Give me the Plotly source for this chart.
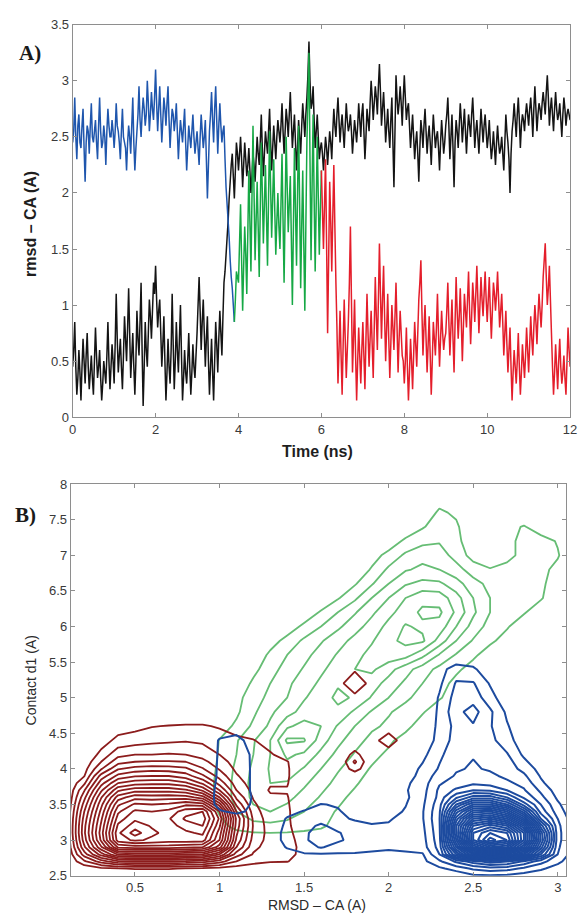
import numpy as np
import plotly.graph_objects as go

# ---------------- Panel A: rmsd - CA time series ----------------
# samples every 0.05 ns (t = 0, 0.05, ...) and the in-between samples (t = 0.025, 0.075, ...)
time_step_ns = 0.05
blue_end_ns = 3.90
green_end_ns = 6.00

rmsd_colored = [
    2.45, 2.85, 2.30, 2.70, 2.40, 2.75, 2.10, 2.60, 2.35, 2.80, 2.45, 2.65, 2.30, 2.85, 2.40, 2.60, 2.25, 2.75, 2.50, 2.65,
    2.40, 2.80, 2.55, 2.30, 2.75, 2.45, 2.20, 2.60, 2.35, 2.85, 2.20, 2.55, 2.95, 2.50, 2.85, 2.60, 3.00, 2.55, 2.90, 2.65,
    3.10, 2.55, 2.95, 2.45, 2.85, 2.60, 2.95, 2.40, 2.75, 2.55, 2.80, 2.30, 2.65, 2.45, 2.75, 2.20, 2.60, 2.40, 2.70, 2.35,
    2.55, 2.25, 2.70, 2.40, 2.65, 1.95, 2.55, 2.90, 2.45, 2.95, 2.35, 2.80, 2.45, 2.60, 2.05, 1.75, 1.40, 1.15, 0.85, 1.30,
    1.20, 1.90, 0.95, 1.70, 1.10, 2.20, 1.30, 2.60, 1.40, 2.10, 1.25, 2.45, 1.55, 2.25, 1.35, 2.55, 1.60, 2.30, 1.45, 2.00,
    1.50, 2.35, 1.20, 2.50, 1.65, 2.15, 1.00, 2.40, 1.35, 2.60, 1.15, 2.20, 0.95, 2.45, 3.25, 1.40, 2.70, 1.30, 2.50, 1.45,
    2.20, 1.50, 2.30, 0.75, 2.10, 1.30, 2.25, 1.20, 0.30, 0.95, 0.20, 1.05, 0.35, 0.85, 1.70, 0.40, 1.05, 0.15, 0.80, 0.30,
    0.85, 0.25, 1.10, 0.45, 0.95, 0.35, 1.25, 0.60, 1.55, 0.70, 1.35, 0.50, 1.10, 0.35, 1.00, 0.60, 1.20, 0.40, 0.95, 0.55,
    0.30, 0.80, 0.15, 0.70, 0.25, 0.85, 0.45, 1.05, 1.40, 0.55, 1.00, 0.40, 0.90, 0.20, 0.85, 0.55, 1.10, 0.45, 0.95, 0.60,
    0.75, 1.20, 0.55, 1.05, 0.40, 1.25, 0.70, 1.15, 0.50, 1.10, 0.80, 1.30, 0.65, 1.20, 0.85, 1.35, 0.75, 1.25, 0.90, 1.30,
    0.85, 1.25, 0.70, 1.20, 0.95, 1.30, 0.80, 1.10, 0.55, 0.95, 0.40, 0.80, 0.15, 0.60, 0.30, 0.75, 0.20, 0.65, 0.35, 0.80,
    0.40, 0.90, 0.55, 1.00, 0.65, 1.10, 0.80, 1.25, 1.55, 1.00, 1.35, 0.75, 0.20, 0.65, 0.25, 0.70, 0.30, 0.55, 0.20, 0.80,
    0.45,
]
rmsd_colored_mid = [
    2.55, 2.50, 2.60, 2.45, 2.60, 2.40, 2.45, 2.55, 2.60, 2.50, 2.55, 2.45, 2.60, 2.55, 2.45, 2.50, 2.55, 2.60, 2.50, 2.55,
    2.55, 2.60, 2.45, 2.55, 2.50, 2.40, 2.45, 2.50, 2.60, 2.45, 2.40, 2.70, 2.65, 2.70, 2.75, 2.70, 2.80, 2.70, 2.75, 2.85,
    2.80, 2.75, 2.70, 2.65, 2.75, 2.80, 2.65, 2.60, 2.70, 2.65, 2.55, 2.50, 2.55, 2.60, 2.45, 2.40, 2.50, 2.55, 2.50, 2.45,
    2.40, 2.50, 2.55, 2.50, 2.30, 2.25, 2.70, 2.65, 2.75, 2.65, 2.60, 2.60, 2.55, 2.30, 1.90, 1.60, 1.25, 1.00, 1.05, 1.25,
    1.55, 1.40, 1.35, 1.45, 1.65, 1.75, 1.95, 2.00, 1.75, 1.70, 1.85, 2.00, 1.90, 1.80, 1.95, 2.05, 1.95, 1.85, 1.75, 1.70,
    1.90, 1.75, 1.85, 2.05, 1.90, 1.60, 1.70, 1.85, 2.00, 1.90, 1.70, 1.55, 1.70, 2.85, 2.30, 2.05, 1.95, 1.90, 1.95, 1.85,
    1.85, 1.90, 1.55, 1.40, 1.75, 1.80, 1.70, 0.80, 0.60, 0.55, 0.65, 0.70, 0.60, 1.20, 1.05, 0.70, 0.55, 0.50, 0.55, 0.60,
    0.55, 0.70, 0.75, 0.70, 0.65, 0.80, 0.90, 1.05, 1.10, 1.05, 0.90, 0.80, 0.70, 0.65, 0.80, 0.90, 0.80, 0.70, 0.75, 0.50,
    0.50, 0.45, 0.40, 0.50, 0.55, 0.65, 0.75, 1.20, 0.95, 0.80, 0.70, 0.65, 0.55, 0.50, 0.70, 0.80, 0.75, 0.70, 0.75, 0.70,
    0.95, 0.85, 0.80, 0.70, 0.85, 0.95, 0.90, 0.85, 0.80, 0.95, 1.05, 0.95, 0.90, 1.05, 1.10, 1.05, 1.00, 1.05, 1.10, 1.05,
    1.05, 0.95, 0.95, 1.10, 1.10, 1.05, 0.95, 0.85, 0.75, 0.65, 0.60, 0.45, 0.40, 0.45, 0.50, 0.45, 0.40, 0.50, 0.55, 0.60,
    0.65, 0.70, 0.80, 0.85, 0.90, 0.95, 1.00, 1.40, 1.25, 1.15, 1.05, 0.45, 0.40, 0.45, 0.50, 0.45, 0.40, 0.35, 0.50, 0.60,
]

rmsd_black = [
    0.45, 0.85, 0.20, 0.60, 0.15, 0.70, 0.30, 0.75, 0.25, 0.55, 0.20, 0.80, 0.35, 0.60, 0.15, 0.50, 0.30, 0.85, 0.25, 0.65,
    0.30, 1.10, 0.40, 0.70, 0.25, 0.90, 0.50, 1.15, 0.35, 0.75, 0.20, 0.95, 0.55, 1.20, 0.10, 0.85, 0.45, 1.05, 0.70, 1.20,
    1.35, 0.80, 1.05, 0.45, 0.90, 0.15, 0.70, 0.30, 1.10, 0.25, 0.85, 0.40, 1.00, 0.15, 0.60, 0.30, 0.75, 0.20, 0.65, 0.35,
    0.75, 1.25, 0.60, 1.05, 0.45, 0.90, 0.20, 0.70, 0.15, 0.85, 0.40, 0.95, 0.55, 1.20, 1.45, 1.75, 2.10, 2.35, 1.95, 2.45,
    2.20, 2.50, 2.05, 2.45, 2.15, 2.40, 2.00, 2.35, 2.10, 2.50, 2.25, 2.70, 2.15, 2.55, 2.35, 2.75, 2.20, 2.60, 2.30, 2.65,
    2.45, 2.80, 2.35, 2.75, 2.50, 2.90, 2.40, 2.70, 2.20, 2.65, 2.35, 2.80, 2.50, 2.85, 3.35, 2.75, 2.95, 2.40, 2.70, 2.30,
    2.45, 2.20, 2.50, 2.25, 2.55, 2.30, 2.75, 2.50, 2.85, 2.45, 2.70, 2.40, 2.80, 2.55, 2.70, 2.35, 2.65, 2.45, 2.80, 2.50,
    2.80, 2.30, 2.75, 2.55, 3.00, 2.65, 2.95, 2.70, 3.15, 2.60, 2.90, 2.45, 2.75, 2.40, 2.85, 2.05, 3.05, 2.70, 2.95, 2.60,
    3.05, 2.65, 2.80, 2.40, 2.70, 2.30, 2.55, 2.10, 2.65, 2.40, 2.75, 2.35, 2.60, 2.25, 2.70, 2.40, 2.55, 2.20, 2.65, 2.35,
    2.60, 2.85, 2.30, 2.70, 2.05, 2.65, 2.40, 2.80, 2.45, 2.75, 2.35, 2.70, 2.50, 2.85, 2.40, 2.65, 2.35, 2.75, 2.45, 2.70,
    2.40, 2.65, 2.30, 2.55, 2.25, 2.60, 2.35, 2.50, 2.20, 2.70, 2.45, 2.00, 2.55, 2.80, 2.50, 2.85, 2.40, 2.70, 2.55, 2.80,
    2.60, 2.85, 2.50, 2.95, 2.55, 2.80, 2.65, 2.90, 2.70, 3.05, 2.60, 2.85, 2.55, 2.90, 2.65, 2.80, 2.50, 2.85, 2.60, 2.75,
    2.65,
]
rmsd_black_mid = [
    0.60, 0.45, 0.35, 0.40, 0.45, 0.50, 0.55, 0.45, 0.40, 0.35, 0.50, 0.55, 0.45, 0.35, 0.30, 0.40, 0.55, 0.50, 0.45, 0.50,
    0.65, 0.70, 0.55, 0.45, 0.55, 0.70, 0.80, 0.75, 0.55, 0.45, 0.50, 0.70, 0.85, 0.60, 0.45, 0.60, 0.75, 0.90, 0.95, 1.10,
    1.05, 0.95, 0.75, 0.65, 0.50, 0.40, 0.45, 0.60, 0.65, 0.50, 0.60, 0.70, 0.55, 0.35, 0.40, 0.50, 0.45, 0.40, 0.45, 0.55,
    1.00, 0.95, 0.85, 0.75, 0.70, 0.50, 0.45, 0.40, 0.50, 0.65, 0.70, 0.75, 0.90, 1.30, 1.60, 1.95, 2.25, 2.15, 2.20, 2.35,
    2.35, 2.30, 2.25, 2.30, 2.25, 2.20, 2.15, 2.25, 2.30, 2.35, 2.45, 2.40, 2.35, 2.45, 2.55, 2.45, 2.40, 2.45, 2.50, 2.55,
    2.60, 2.55, 2.55, 2.65, 2.70, 2.65, 2.55, 2.45, 2.40, 2.50, 2.60, 2.65, 2.70, 3.05, 3.00, 2.80, 2.65, 2.55, 2.50, 2.40,
    2.35, 2.35, 2.40, 2.40, 2.45, 2.55, 2.60, 2.70, 2.65, 2.60, 2.55, 2.60, 2.65, 2.60, 2.55, 2.50, 2.55, 2.60, 2.65, 2.70,
    2.55, 2.50, 2.65, 2.80, 2.85, 2.80, 2.85, 2.95, 2.90, 2.75, 2.70, 2.60, 2.55, 2.65, 2.45, 2.55, 2.85, 2.80, 2.80, 2.85,
    2.85, 2.75, 2.60, 2.55, 2.50, 2.45, 2.35, 2.40, 2.55, 2.60, 2.55, 2.50, 2.45, 2.50, 2.55, 2.50, 2.40, 2.45, 2.50, 2.45,
    2.70, 2.60, 2.50, 2.40, 2.45, 2.55, 2.60, 2.65, 2.60, 2.55, 2.55, 2.60, 2.70, 2.65, 2.55, 2.50, 2.55, 2.60, 2.60, 2.55,
    2.50, 2.45, 2.40, 2.40, 2.45, 2.45, 2.40, 2.35, 2.45, 2.55, 2.30, 2.35, 2.65, 2.65, 2.70, 2.65, 2.60, 2.65, 2.70, 2.70,
    2.75, 2.70, 2.75, 2.75, 2.70, 2.75, 2.80, 2.80, 2.90, 2.85, 2.75, 2.70, 2.75, 2.75, 2.70, 2.65, 2.70, 2.75, 2.70, 2.70,
]

time_ticks = [0, 2, 4, 6, 8, 10, 12]
rmsd_ticks = [0, 0.5, 1, 1.5, 2, 2.5, 3, 3.5]

# ---------------- Panel B: density contours ----------------
red_x = [0.1, 0.2, 0.3, 0.4, 0.5, 0.6, 0.7, 0.8, 0.9, 1.0, 1.1, 1.2, 1.3, 1.4, 1.5, 1.6, 1.7, 1.8, 1.9, 2.0, 2.1]
red_y = [2.5, 2.6, 2.7, 2.8, 2.9, 3.0, 3.1, 3.2, 3.3, 3.4, 3.5, 3.6, 3.7, 3.8, 3.9, 4.0, 4.1, 4.2, 4.4, 4.6, 4.8, 5.0, 5.2, 5.4]
red_z = [
    [0, 0, 0, 0, 0, 0, 0, 0, 0, 0, 0, 0, 0, 0, 0, 0, 0, 0, 0, 0, 0],
    [0, 0.3, 0.7, 0.9, 1.1, 1.1, 1.1, 0.9, 0.8, 0.6, 0.5, 0.4, 0.2, 0, 0, 0, 0, 0, 0, 0, 0],
    [0, 1.8, 3.5, 4.8, 5.0, 5.0, 5.0, 4.8, 4.5, 3.5, 2.0, 1.3, 1.1, 1.05, 0.5, 0, 0, 0, 0, 0, 0],
    [0, 3.5, 6.5, 9.2, 9.5, 9.5, 9.5, 9.2, 9.0, 7.0, 3.5, 1.9, 1.4, 1.2, 0.8, 0, 0, 0, 0, 0, 0],
    [0.1, 4.8, 8.8, 13.2, 13.5, 13.5, 13.5, 13.2, 13.0, 10.5, 5.0, 2.3, 1.5, 1.25, 0.8, 0, 0, 0, 0, 0, 0],
    [0.2, 5.5, 10.2, 15.5, 16.2, 15.8, 15.5, 15.6, 15.5, 12.0, 5.8, 2.6, 1.6, 1.25, 0.7, 0, 0, 0, 0, 0, 0],
    [0.3, 5.8, 10.5, 15.8, 17.5, 16.2, 15.7, 15.8, 16.2, 12.5, 6.2, 2.8, 1.6, 1.2, 0.6, 0, 0, 0, 0, 0, 0],
    [0.3, 5.7, 10.2, 15.2, 16.5, 15.9, 15.6, 16.4, 17.0, 13.2, 6.6, 2.9, 1.5, 1.2, 0.3, 0, 0, 0, 0, 0, 0],
    [0.3, 5.4, 9.8, 14.5, 15.8, 15.6, 15.9, 17.2, 17.6, 13.8, 6.8, 2.8, 1.4, 1.15, 0.3, 0, 0, 0, 0, 0, 0],
    [0.2, 5.0, 9.3, 13.8, 15.2, 15.0, 15.3, 16.6, 17.0, 13.0, 6.0, 2.5, 1.3, 1.15, 0.3, 0, 0, 0, 0, 0, 0],
    [0.1, 4.4, 8.7, 12.8, 14.2, 14.0, 14.2, 14.8, 14.5, 10.5, 4.8, 2.2, 1.2, 1.1, 0.3, 0, 0, 0, 0, 0, 0],
    [0, 3.7, 7.9, 11.5, 12.6, 12.5, 12.6, 12.5, 11.5, 8.0, 3.8, 1.9, 1.15, 1.05, 0.3, 0, 0, 0, 0, 0, 0],
    [0, 2.9, 6.8, 9.8, 10.6, 10.6, 10.6, 10.2, 8.8, 6.0, 3.0, 1.7, 0.9, 0.95, 0.3, 0, 0, 0, 0, 0, 0],
    [0, 1.8, 5.6, 8.0, 8.6, 8.7, 8.7, 8.2, 6.8, 4.6, 2.5, 1.5, 1.1, 1.05, 0.3, 0, 0, 0, 0, 0, 0],
    [0, 0.95, 4.4, 6.3, 6.9, 7.0, 7.0, 6.5, 5.2, 3.6, 2.1, 1.4, 1.2, 1.1, 0.3, 0, 0, 0.2, 0, 0, 0],
    [0, 0.6, 2.9, 4.9, 5.4, 5.6, 5.5, 5.2, 4.1, 2.9, 1.8, 1.3, 1.2, 1.1, 0.3, 0, 0, 1.5, 0, 0, 0],
    [0, 0.3, 2.0, 3.6, 4.0, 4.1, 4.1, 4.0, 3.3, 2.4, 1.6, 1.25, 1.2, 1.05, 0.3, 0, 0, 2.2, 0, 0, 0],
    [0, 0.1, 1.3, 2.7, 3.0, 3.0, 3.1, 3.0, 2.6, 2.0, 1.4, 1.2, 1.1, 0.6, 0, 0, 0, 1.4, 0, 0, 0],
    [0, 0, 0.5, 1.3, 1.5, 1.7, 1.8, 1.9, 1.8, 1.5, 1.2, 1.05, 0.6, 0.1, 0, 0, 0, 0, 0.3, 2.0, 0],
    [0, 0, 0, 0.5, 0.7, 0.95, 1.05, 1.1, 1.1, 0.9, 0.6, 0.3, 0, 0, 0, 0, 0, 0, 0, 0, 0],
    [0, 0, 0, 0, 0, 0, 0, 0.2, 0.2, 0.1, 0, 0, 0, 0, 0, 0, 0, 0, 0, 0, 0],
    [0, 0, 0, 0, 0, 0, 0, 0, 0, 0, 0, 0, 0, 0, 0, 0, 0, 0.6, 0, 0, 0],
    [0, 0, 0, 0, 0, 0, 0, 0, 0, 0, 0, 0, 0, 0, 0, 0, 0.5, 2.0, 0.5, 0, 0],
    [0, 0, 0, 0, 0, 0, 0, 0, 0, 0, 0, 0, 0, 0, 0, 0, 0, 0.8, 0, 0, 0],
]
red_levels = (1, 17, 1)

gb_x = [0.9, 1.0, 1.1, 1.2, 1.3, 1.4, 1.5, 1.6, 1.7, 1.8, 1.9, 2.0, 2.1, 2.2, 2.3, 2.4, 2.5, 2.6, 2.7, 2.8, 2.9, 3.0, 3.1]

blue_y = [2.4, 2.5, 2.6, 2.7, 2.8, 2.9, 3.0, 3.1, 3.2, 3.3, 3.4, 3.5, 3.6, 3.7, 3.8, 3.9, 4.0, 4.2, 4.4, 4.6, 4.8, 5.0, 5.2, 5.4, 5.6]
blue_z = [
    [0, 0, 0, 0, 0, 0, 0, 0, 0, 0, 0, 0, 0, 0, 0, 0, 0, 0, 0, 0, 0, 0, 0],
    [0, 0, 0, 0, 0, 0, 0, 0, 0, 0, 0, 0, 0, 0, 0, 0.3, 0.8, 0.9, 0.8, 0.5, 0.2, 0, 0],
    [0, 0, 0, 0, 0, 0, 0, 0, 0, 0, 0, 0, 0, 0.3, 0.8, 1.4, 2.2, 2.6, 2.4, 1.8, 1.2, 0.5, 0],
    [0, 0, 0, 0, 0, 0, 0.3, 0.3, 0.3, 0.3, 0.3, 0.3, 0.3, 0.7, 1.8, 3.2, 4.5, 5.5, 5.0, 3.8, 2.4, 1.3, 0.2],
    [0, 0, 0, 0, 0, 0.5, 0.9, 0.9, 0.9, 0.9, 0.8, 0.7, 0.8, 0.9, 3.0, 8, 13, 15, 14, 11, 6, 2.0, 0.4],
    [0, 0, 0, 0, 0.2, 1.1, 1.5, 2.1, 1.5, 1.4, 1.3, 1.2, 1.3, 1.5, 3.4, 11, 19, 22, 21, 16, 8.5, 2.2, 0.5],
    [0, 0, 0, 0, 0.5, 1.3, 1.8, 2.6, 2.2, 1.6, 1.5, 1.4, 1.5, 1.6, 3.6, 13, 23, 26.5, 25, 19, 10, 2.4, 0.5],
    [0, 0, 0, 0, 0.5, 1.3, 1.8, 2.5, 2.1, 1.5, 1.4, 1.35, 1.5, 1.7, 3.7, 14, 23, 25, 24, 19, 9.5, 2.4, 0.5],
    [0, 0, 0, 0, 0.4, 1.2, 1.6, 2.2, 1.6, 1.3, 1.1, 1.1, 1.4, 1.8, 3.8, 14, 21, 22.5, 21, 16, 7.5, 2.3, 0.4],
    [0, 0.3, 0.5, 0.3, 0.2, 1.1, 1.3, 1.5, 1.2, 0.9, 0.7, 0.9, 1.3, 1.9, 3.9, 12.5, 18, 19, 17, 12, 5.0, 2.0, 0.3],
    [0, 0.9, 1.2, 0.8, 0, 0.6, 1.1, 1.2, 1.1, 0.6, 0.4, 0.6, 1.1, 1.9, 3.8, 10.5, 14.5, 15, 13, 8.5, 3.6, 1.5, 0.2],
    [0.3, 1.3, 1.4, 0.9, 0, 0.2, 0.4, 1.05, 0.9, 0.3, 0, 0.5, 0.95, 1.8, 3.6, 8, 11, 11, 9, 5.5, 3.0, 1.2, 0],
    [0.4, 1.3, 1.4, 0.95, 0, 0, 0, 0.3, 0.2, 0, 0, 0, 0.8, 1.7, 3.3, 5.8, 7.5, 7.5, 6.0, 3.8, 2.3, 0.8, 0],
    [0.3, 1.3, 1.4, 0.9, 0, 0, 0, 0, 0, 0, 0, 0, 0.9, 1.6, 3.2, 4.2, 5.0, 4.8, 4.0, 3.1, 1.8, 0.5, 0],
    [0.2, 1.25, 1.4, 0.9, 0, 0, 0, 0, 0, 0, 0, 0, 0.8, 1.5, 2.9, 3.4, 3.8, 3.6, 3.2, 2.7, 1.2, 0.3, 0],
    [0.1, 1.2, 1.4, 0.9, 0, 0, 0, 0, 0, 0, 0, 0, 0.6, 1.3, 2.5, 3.1, 3.3, 3.2, 2.8, 2.2, 0.9, 0.1, 0],
    [0, 1.2, 1.4, 0.9, 0, 0, 0, 0, 0, 0, 0, 0, 0.4, 1.2, 2.1, 2.9, 3.1, 2.9, 2.5, 1.7, 0.6, 0, 0],
    [0, 1.15, 1.35, 0.9, 0, 0, 0, 0, 0, 0, 0, 0, 0, 0.7, 1.8, 2.6, 2.95, 2.6, 2.1, 0.8, 0.2, 0, 0],
    [0, 1.1, 1.3, 0.6, 0, 0, 0, 0, 0, 0, 0, 0, 0, 0.2, 1.4, 2.4, 2.7, 2.3, 1.4, 0.4, 0, 0, 0],
    [0, 0.3, 0.5, 0.2, 0, 0, 0, 0, 0, 0, 0, 0, 0, 0, 1.3, 2.3, 2.9, 2.1, 1.1, 0.2, 0, 0, 0],
    [0, 0, 0, 0, 0, 0, 0, 0, 0, 0, 0, 0, 0, 0, 1.2, 2.7, 3.4, 2.2, 0.8, 0, 0, 0, 0],
    [0, 0, 0, 0, 0, 0, 0, 0, 0, 0, 0, 0, 0, 0, 1.1, 2.4, 2.6, 1.4, 0.3, 0, 0, 0, 0],
    [0, 0, 0, 0, 0, 0, 0, 0, 0, 0, 0, 0, 0, 0, 0.8, 2.1, 2.1, 0.9, 0, 0, 0, 0, 0],
    [0, 0, 0, 0, 0, 0, 0, 0, 0, 0, 0, 0, 0, 0, 0.6, 1.5, 1.2, 0.2, 0, 0, 0, 0, 0],
    [0, 0, 0, 0, 0, 0, 0, 0, 0, 0, 0, 0, 0, 0, 0, 0, 0, 0, 0, 0, 0, 0, 0],
]
blue_levels = (1, 26, 1)

green_y = [3.0, 3.2, 3.4, 3.6, 3.8, 4.0, 4.2, 4.4, 4.6, 4.8, 5.0, 5.2, 5.4, 5.6, 5.8, 6.0, 6.2, 6.4, 6.6, 6.8, 7.0, 7.2, 7.4, 7.6, 7.8]
green_z = [
    [0, 0, 0.3, 0.3, 0.3, 0.3, 0.3, 0.2, 0, 0, 0, 0, 0, 0, 0, 0, 0, 0, 0, 0, 0, 0, 0],
    [0, 0.7, 1.3, 1.6, 1.7, 1.6, 1.4, 1.2, 0.6, 0, 0, 0, 0, 0, 0, 0, 0, 0, 0, 0, 0, 0, 0],
    [0.2, 1.1, 2.0, 2.8, 3.0, 2.6, 2.0, 1.4, 0.9, 0.3, 0, 0, 0, 0, 0, 0, 0, 0, 0, 0, 0, 0, 0],
    [0.4, 1.3, 2.3, 3.2, 3.6, 3.3, 2.6, 1.9, 1.3, 0.7, 0.2, 0, 0, 0, 0, 0, 0, 0, 0, 0, 0, 0, 0],
    [0.4, 1.3, 2.3, 3.3, 4.0, 3.9, 3.2, 2.4, 1.7, 1.15, 0.5, 0, 0, 0, 0, 0, 0, 0, 0, 0, 0, 0, 0],
    [0.3, 1.2, 2.2, 3.2, 4.1, 4.6, 3.9, 3.0, 2.1, 1.5, 0.9, 0.3, 0, 0, 0, 0, 0, 0, 0, 0, 0, 0, 0],
    [0.2, 1.1, 2.0, 3.0, 4.0, 5.2, 4.8, 3.7, 2.7, 1.9, 1.3, 0.8, 0.2, 0, 0, 0, 0, 0, 0, 0, 0, 0, 0],
    [0, 1.05, 1.9, 2.9, 4.0, 6.2, 6.1, 4.5, 3.3, 2.4, 1.7, 1.2, 0.6, 0, 0, 0, 0, 0, 0, 0, 0, 0, 0],
    [0, 0.5, 1.2, 2.2, 3.2, 4.8, 5.4, 5.0, 3.9, 3.0, 2.2, 1.8, 1.3, 0.5, 0, 0, 0, 0, 0, 0, 0, 0, 0],
    [0, 0, 0.8, 1.8, 2.8, 3.6, 4.4, 5.0, 4.8, 3.8, 2.9, 2.1, 1.6, 1.1, 0.4, 0, 0, 0, 0, 0, 0, 0, 0],
    [0, 0, 0.7, 1.5, 2.3, 3.0, 3.9, 4.6, 5.2, 4.9, 3.9, 3.0, 2.2, 1.6, 1.1, 0.5, 0, 0, 0, 0, 0, 0, 0],
    [0, 0, 0.2, 1.2, 2.0, 2.8, 3.5, 4.2, 4.9, 5.0, 4.5, 3.6, 2.8, 2.0, 1.4, 0.7, 0, 0, 0, 0, 0, 0, 0],
    [0, 0, 0, 0.7, 1.6, 2.4, 3.1, 3.8, 4.5, 5.0, 5.2, 4.4, 3.4, 2.5, 1.7, 1.2, 0.6, 0, 0, 0, 0, 0, 0],
    [0, 0, 0, 0.3, 1.2, 2.0, 2.7, 3.4, 4.1, 4.7, 5.3, 5.6, 5.4, 4.3, 2.9, 1.9, 1.2, 0.5, 0, 0, 0, 0, 0],
    [0, 0, 0, 0, 0.6, 1.3, 2.2, 2.9, 3.6, 4.3, 4.9, 5.7, 6.3, 6.2, 4.6, 3.0, 1.9, 1.2, 0.6, 0, 0, 0, 0],
    [0, 0, 0, 0, 0, 0.5, 1.2, 2.0, 2.8, 3.6, 4.4, 5.3, 6.1, 5.8, 5.6, 4.0, 2.6, 1.6, 1.1, 0.4, 0, 0, 0],
    [0, 0, 0, 0, 0, 0, 0.4, 1.1, 2.0, 2.9, 3.8, 4.7, 5.5, 6.2, 6.2, 4.8, 3.2, 2.0, 1.3, 1.1, 0.4, 0, 0],
    [0, 0, 0, 0, 0, 0, 0, 0.3, 0.9, 1.8, 3.0, 4.0, 5.0, 5.7, 5.6, 4.4, 3.0, 2.0, 1.4, 1.3, 1.1, 0.3, 0],
    [0, 0, 0, 0, 0, 0, 0, 0, 0.2, 0.9, 1.9, 3.0, 3.9, 4.3, 4.2, 3.4, 2.4, 1.7, 1.3, 1.3, 1.2, 0.5, 0],
    [0, 0, 0, 0, 0, 0, 0, 0, 0, 0.3, 1.1, 2.2, 2.9, 3.2, 3.0, 2.4, 1.5, 1.05, 1.1, 1.2, 1.3, 0.7, 0],
    [0, 0, 0, 0, 0, 0, 0, 0, 0, 0, 0.6, 1.3, 2.2, 2.7, 2.5, 1.6, 0.6, 0.5, 0.9, 1.1, 1.4, 1.1, 0],
    [0, 0, 0, 0, 0, 0, 0, 0, 0, 0, 0, 0.4, 1.2, 1.7, 1.9, 1.3, 0.3, 0, 0.7, 1.3, 1.5, 0.9, 0],
    [0, 0, 0, 0, 0, 0, 0, 0, 0, 0, 0, 0, 0.3, 0.9, 1.5, 1.2, 0, 0, 0.6, 1.1, 0.3, 0, 0],
    [0, 0, 0, 0, 0, 0, 0, 0, 0, 0, 0, 0, 0, 0.2, 1.2, 0.8, 0, 0, 0, 0, 0, 0, 0],
    [0, 0, 0, 0, 0, 0, 0, 0, 0, 0, 0, 0, 0, 0, 0.5, 0, 0, 0, 0, 0, 0, 0, 0],
]
green_levels = (1, 6, 1)

rmsd_b_ticks = [0.5, 1, 1.5, 2, 2.5, 3]
contact_ticks = [2.5, 3, 3.5, 4, 4.5, 5, 5.5, 6, 6.5, 7, 7.5, 8]

# ---------------- styles ----------------
C_BLACK = "#141414"
C_BLUE = "#1f56ad"
C_GREEN = "#16a845"
C_RED = "#e41e2b"
C_CRED = "#8c1c1c"
C_CGREEN = "#66bd74"
C_CBLUE = "#1d4b9f"
AX_COLOR = "#8e8e8e"
TICK_FONT = dict(family="Liberation Sans, Arial, sans-serif", size=13, color="#3a3a3a")
SERIES_WIDTH = 1.5

W, H = 583, 924


def interleave(main, mid):
    out = []
    for i, v in enumerate(main):
        out.append(v)
        if i < len(mid):
            out.append(mid[i])
    return np.array(out, dtype=float)


yc = interleave(rmsd_colored, rmsd_colored_mid)
yb = interleave(rmsd_black, rmsd_black_mid)
t = np.round(np.arange(len(yb)) * time_step_ns / 2, 3)

fig = go.Figure()
fig.add_trace(go.Scatter(x=t, y=yb, mode="lines", line=dict(color=C_BLACK, width=SERIES_WIDTH, simplify=False),
                         xaxis="x", yaxis="y", hoverinfo="skip"))
m_blue = t <= blue_end_ns + 1e-9
m_green = (t >= blue_end_ns - 1e-9) & (t <= green_end_ns + 1e-9)
m_red = t >= green_end_ns - 1e-9
for mask, col in ((m_blue, C_BLUE), (m_green, C_GREEN), (m_red, C_RED)):
    fig.add_trace(go.Scatter(x=t[mask], y=yc[mask], mode="lines",
                             line=dict(color=col, width=SERIES_WIDTH, simplify=False),
                             xaxis="x", yaxis="y", hoverinfo="skip"))


def contour_trace(x, y, z, levels, color, width):
    s, e, d = levels
    return go.Contour(
        x=x, y=y, z=z, autocontour=False,
        contours=dict(start=s, end=e, size=d, coloring="lines", showlabels=False),
        colorscale=[[0, color], [1, color]], showscale=False,
        line=dict(width=width, smoothing=0),
        xaxis="x2", yaxis="y2", hoverinfo="skip",
    )


fig.add_trace(contour_trace(gb_x, green_y, green_z, green_levels, C_CGREEN, 1.8))
fig.add_trace(contour_trace(red_x, red_y, red_z, red_levels, C_CRED, 1.8))
fig.add_trace(contour_trace(gb_x, blue_y, blue_z, blue_levels, C_CBLUE, 2.0))

axis_common = dict(showline=True, linecolor=AX_COLOR, linewidth=1, mirror="ticks",
                   ticks="inside", ticklen=4, tickcolor=AX_COLOR, tickwidth=1,
                   showgrid=False, zeroline=False, tickfont=TICK_FONT,
                   ticklabeloverflow="allow")


def fmt(v):
    return "%g" % v


fig.update_layout(
    width=W, height=H, margin=dict(l=0, r=0, t=0, b=0),
    paper_bgcolor="white", plot_bgcolor="white", showlegend=False, hovermode=False,
    xaxis=dict(domain=[70 / W, 577 / W], range=[0, 12], tickvals=time_ticks,
               ticktext=[fmt(v) for v in time_ticks], anchor="y", **axis_common),
    yaxis=dict(domain=[1 - 417 / H, 1 - 18 / H], range=[0, 3.5], tickvals=rmsd_ticks,
               ticktext=[fmt(v) for v in rmsd_ticks], anchor="x", **axis_common),
    xaxis2=dict(domain=[68 / W, 573 / W], range=[0.12, 3.05], tickvals=rmsd_b_ticks,
                ticktext=[fmt(v) for v in rmsd_b_ticks], anchor="y2", **axis_common),
    yaxis2=dict(domain=[1 - 883 / H, 1 - 485 / H], range=[2.5, 8], tickvals=contact_ticks,
                ticktext=[fmt(v) for v in contact_ticks], anchor="x2", **axis_common),
)

title_bold = dict(family="Liberation Sans, Arial, sans-serif", size=16, color="#1e1e1e")
title_reg = dict(family="Liberation Sans, Arial, sans-serif", size=14, color="#2a2a2a")
label_font = dict(family="Liberation Serif, Times New Roman, serif", size=21, color="#1a1a1a")

annotations = [
    dict(text="<b>Time (ns)</b>", x=320 / W, y=1 - 452 / H, font=title_bold),
    dict(text="<b>rmsd – CA (A)</b>", x=27 / W, y=1 - 220 / H, font=title_bold, textangle=-90),
    dict(text="RMSD – CA (A)", x=319 / W, y=1 - 913 / H, font=title_reg),
    dict(text="Contact d1 (A)", x=27 / W, y=1 - 684 / H, font=title_reg, textangle=-90),
    dict(text="<b>A)</b>", x=26 / W, y=1 - 47 / H, font=label_font),
    dict(text="<b>B)</b>", x=22 / W, y=1 - 516 / H, font=label_font),
]
for a in annotations:
    fig.add_annotation(xref="paper", yref="paper", showarrow=False,
                       xanchor="center", yanchor="middle", **a)

fig.write_html("out.html")
